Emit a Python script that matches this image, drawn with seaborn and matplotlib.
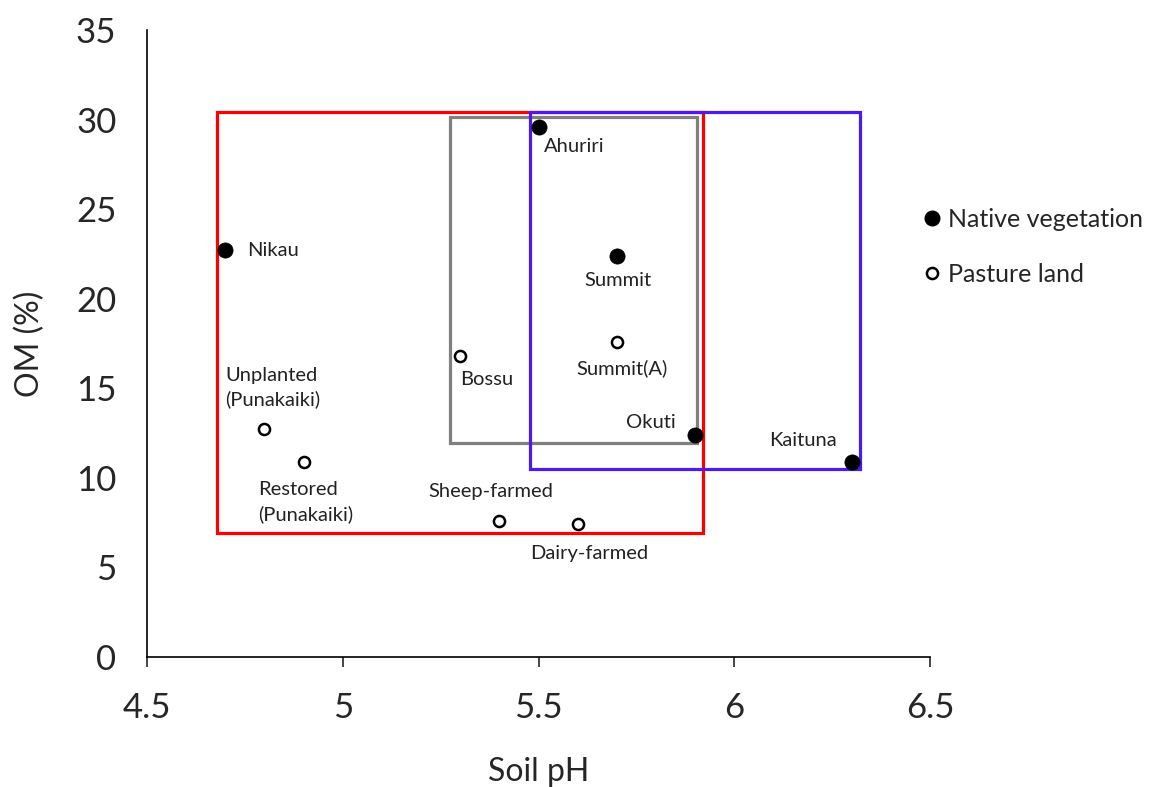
import matplotlib
matplotlib.use('Agg')
import matplotlib.pyplot as plt
import seaborn as sns
import pandas as pd
from matplotlib.patches import Rectangle
from matplotlib.lines import Line2D

# data
sites = ['Nikau', 'Ahuriri', 'Summit', 'Okuti', 'Kaituna',
         'Unplanted\n(Punakaiki)', 'Restored\n(Punakaiki)', 'Bossu', 'Summit(A)',
         'Sheep-farmed', 'Dairy-farmed']
soil_ph = [4.7, 5.5, 5.7, 5.9, 6.3, 4.8, 4.9, 5.3, 5.7, 5.4, 5.6]
om_pct = [22.7, 29.6, 22.4, 12.4, 10.9, 12.7, 10.9, 16.8, 17.6, 7.6, 7.4]
land_use = ['Native vegetation'] * 5 + ['Pasture land'] * 6

# grouping boxes: (x0, x1, y0, y1)
box_red = [4.68, 5.92, 6.9, 30.4]
box_gray = [5.275, 5.905, 11.95, 30.15]
box_blue = [5.478, 6.32, 10.5, 30.4]

# label offsets in points (dx, dy, ha)
label_pos = {
    'Nikau': (16, 0, 'left'),
    'Ahuriri': (4, -14, 'left'),
    'Summit': (1, -18, 'center'),
    'Okuti': (-14, 9, 'right'),
    'Kaituna': (-11, 15, 'right'),
    'Unplanted\n(Punakaiki)': (-28, 30, 'left'),
    'Restored\n(Punakaiki)': (-33, -29, 'left'),
    'Bossu': (0, -17, 'left'),
    'Summit(A)': (4, -19, 'center'),
    'Sheep-farmed': (-6, 21, 'center'),
    'Dairy-farmed': (8, -21, 'center'),
}

df = pd.DataFrame({'site': sites, 'ph': soil_ph, 'om': om_pct, 'type': land_use})

sns.set_style('white')
plt.rcParams['font.family'] = ['Lato', 'DejaVu Sans']

fig = plt.figure(figsize=(11.54, 7.87), dpi=100)
ax = fig.add_axes([0.1274, 0.1652, 0.6785, 0.7967])

# boxes first so points sit on top
for b, c in [(box_red, '#FF0000'), (box_gray, '#808080'), (box_blue, '#4B1AF0')]:
    ax.add_patch(Rectangle((b[0], b[2]), b[1] - b[0], b[3] - b[2],
                           fill=False, edgecolor=c, linewidth=2.3, zorder=2))

native = df[df['type'] == 'Native vegetation']
pasture = df[df['type'] == 'Pasture land']
sns.scatterplot(data=native, x='ph', y='om', ax=ax, color='black', s=120,
                edgecolor='black', linewidth=0.5, zorder=4, legend=False)
sns.scatterplot(data=pasture, x='ph', y='om', ax=ax, color='white', s=64,
                edgecolor='black', linewidth=1.8, zorder=4, legend=False)

for _, r in df.iterrows():
    dx, dy, ha = label_pos[r['site']]
    ax.annotate(r['site'], (r['ph'], r['om']), xytext=(dx, dy),
                textcoords='offset points', ha=ha, va='center',
                fontsize=14.5, color='#222222', linespacing=1.45,
                multialignment='left')

ax.set_xlim(4.5, 6.5)
ax.set_ylim(0, 35)
ax.set_xticks([4.5, 5, 5.5, 6, 6.5])
ax.set_xticklabels(['4.5', '5', '5.5', '6', '6.5'])
ax.set_yticks(range(0, 36, 5))
ax.tick_params(axis='x', length=7, width=1.2, direction='out', labelsize=25, pad=18, bottom=True)
ax.tick_params(axis='y', length=0, labelsize=25, pad=22)
for s in ['top', 'right']:
    ax.spines[s].set_visible(False)
for s in ['left', 'bottom']:
    ax.spines[s].set_color('black')
    ax.spines[s].set_linewidth(1.2)

ax.set_xlabel('Soil pH', fontsize=23, labelpad=24)
ax.set_ylabel('OM (%)', fontsize=23, labelpad=22)

handles = [
    Line2D([], [], linestyle='none', marker='o', markersize=10.5,
           markerfacecolor='black', markeredgecolor='black'),
    Line2D([], [], linestyle='none', marker='o', markersize=8,
           markerfacecolor='white', markeredgecolor='black', markeredgewidth=1.8),
]
fig.legend(handles, ['Native vegetation', 'Pasture land'],
           loc='upper left', bbox_to_anchor=(0.790, 0.752), frameon=False,
           fontsize=18, handlelength=0.6, handletextpad=0.35, labelspacing=1.3,
           borderpad=0)

fig.savefig('out.png', dpi=100)
